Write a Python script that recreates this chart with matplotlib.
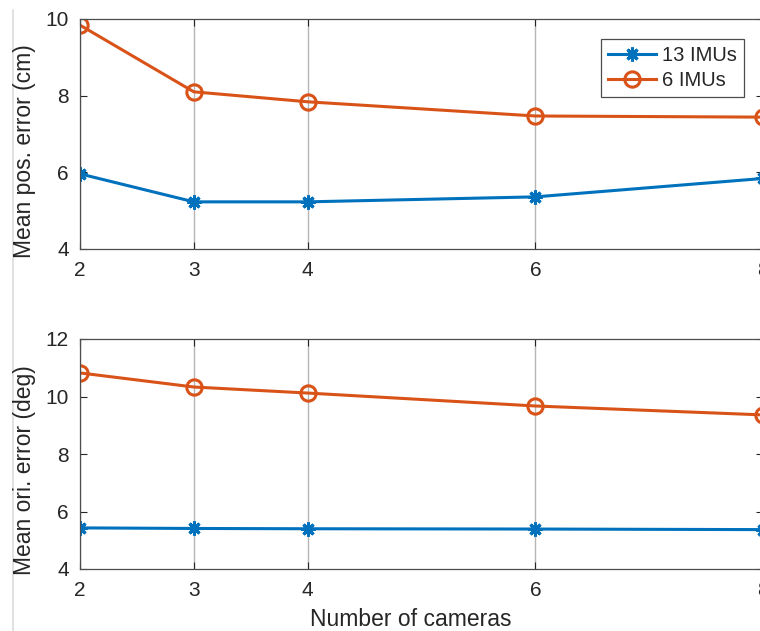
import matplotlib
matplotlib.use("Agg")
import matplotlib.pyplot as plt
from matplotlib.lines import Line2D

cameras = [2, 3, 4, 6, 8]
pos_13 = [5.96, 5.23, 5.23, 5.36, 5.84]
pos_6 = [9.84, 8.10, 7.84, 7.47, 7.44]
ori_13 = [5.43, 5.41, 5.40, 5.39, 5.37]
ori_6 = [10.82, 10.33, 10.12, 9.67, 9.36]
labels = ["13 IMUs", "6 IMUs"]

blue = "#0072BD"
orange = "#D95319"
axc = "#262626"

plt.rcParams['font.family'] = ['Liberation Sans', 'DejaVu Sans']

W, H = 760, 631
fig = plt.figure(figsize=(W / 100, H / 100), dpi=100)

def frac(x0, y0, x1, y1):
    return [x0 / W, 1 - y1 / H, (x1 - x0) / W, (y1 - y0) / H]

ax1 = fig.add_axes(frac(80, 19, 763, 249))
ax2 = fig.add_axes(frac(80, 339, 763, 569))

def style(ax, ylim, yticks):
    ax.set_xlim(2, 8)
    ax.set_ylim(*ylim)
    ax.set_xticks(cameras)
    ax.set_yticks(yticks)
    ax.tick_params(direction='in', length=5, width=0.8, colors=axc,
                   labelsize=15, top=True, right=True, pad=8)
    ax.tick_params(axis='x', pad=9)
    for s in ax.spines.values():
        s.set_color('#4d4d4d')
        s.set_linewidth(0.9)
    ax.xaxis.grid(True, color='#b5b5b5', linewidth=1.0)
    ax.set_axisbelow(True)

l1, = ax1.plot(cameras, pos_13, color=blue, lw=2.2, marker=(8, 2, 0),
               markersize=10, markeredgewidth=2.2, label=labels[0])
l2, = ax1.plot(cameras, pos_6, color=orange, lw=2.2, marker='o',
               markersize=11, markerfacecolor='none', markeredgewidth=2.2,
               label=labels[1])
style(ax1, (4, 10), [4, 6, 8, 10])

ax2.plot(cameras, ori_13, color=blue, lw=2.2, marker=(8, 2, 0),
         markersize=10, markeredgewidth=2.2)
ax2.plot(cameras, ori_6, color=orange, lw=2.2, marker='o',
         markersize=11, markerfacecolor='none', markeredgewidth=2.2)
style(ax2, (4, 12), [4, 6, 8, 10, 12])

leg = ax1.legend(handles=[l1, l2], loc='upper right',
                 bbox_to_anchor=(744 / W, 1 - 39 / H),
                 bbox_transform=fig.transFigure, fontsize=14.5,
                 fancybox=False, framealpha=1, edgecolor='#4d4d4d',
                 handlelength=2.4, handletextpad=0.3, borderpad=0.35,
                 labelspacing=0.3, borderaxespad=0)
leg.get_frame().set_linewidth(0.9)
for t in leg.get_texts():
    t.set_color(axc)

fig.text(25 / W, 1 - 151 / H, "Mean pos. error (cm)", rotation=90,
         ha='center', va='center', fontsize=16.5, color=axc)
fig.text(25 / W, 1 - 470 / H, "Mean ori. error (deg)", rotation=90,
         ha='center', va='center', fontsize=16.5, color=axc)
fig.text(411 / W, 1 - 620 / H, "Number of cameras",
         ha='center', va='center', fontsize=16.5, color=axc)

fig.add_artist(Line2D([13 / W, 13 / W], [0, 1 - 10 / H],
                      transform=fig.transFigure, color='#dcdcdc', lw=1.2))

fig.savefig("out.png", dpi=100)
